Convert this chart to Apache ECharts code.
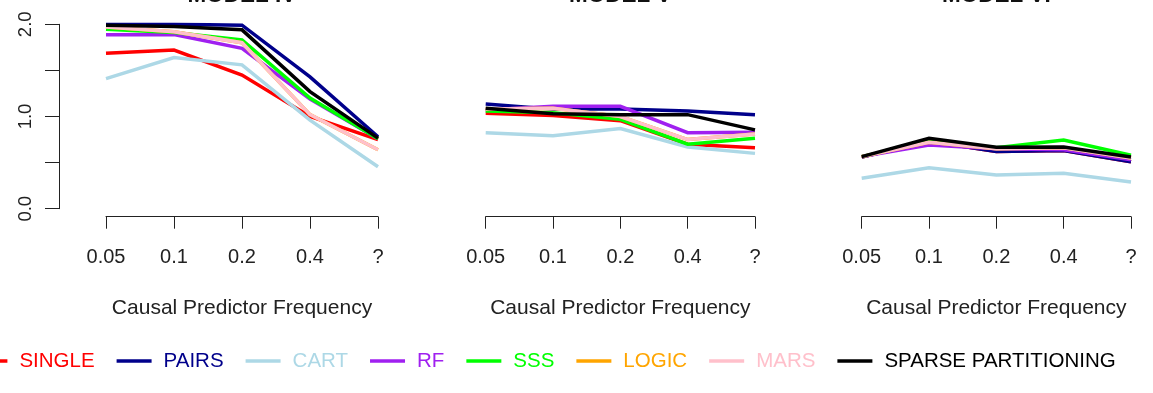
<!DOCTYPE html>
<html>
<head>
<meta charset="utf-8">
<script src="https://cdn.jsdelivr.net/npm/echarts@6/dist/echarts.min.js"></script>
<style>
html,body{margin:0;padding:0;background:#fff;}
#chart{width:1153px;height:393px;}
</style>
</head>
<body>
<div id="chart"></div>
<script>
// ---- data ----
const categories = ["0.05", "0.1", "0.2", "0.4", "?"];
const panelTitles = ["MODEL IV", "MODEL V", "MODEL VI"];
const methods = ["SINGLE", "PAIRS", "CART", "RF", "SSS", "LOGIC", "MARS", "SPARSE PARTITIONING"];
const methodColors = ["#FF0000", "#00008B", "#ADD8E6", "#A020F0", "#00FF00", "#FFA500", "#FFC0CB", "#000000"];
const yTicks = [0, 0.5, 1, 1.5, 2];

// MODEL IV
const m4_single = [1.685, 1.72, 1.45, 1.00, 0.75];
const m4_pairs  = [2.00, 2.00, 1.99, 1.43, 0.78];
const m4_cart   = [1.41, 1.64, 1.56, 0.96, 0.455];
const m4_rf     = [1.887, 1.89, 1.74, 1.19, 0.76];
const m4_sss    = [1.946, 1.91, 1.83, 1.20, 0.76];
const m4_logic  = [1.97, 1.92, 1.80, 1.02, 0.64];
const m4_mars   = [1.97, 1.92, 1.80, 1.02, 0.64];
const m4_sparse = [1.99, 1.975, 1.94, 1.27, 0.765];
// MODEL V
const m5_single = [1.035, 1.01, 0.955, 0.70, 0.66];
const m5_pairs  = [1.135, 1.08, 1.08, 1.06, 1.02];
const m5_cart   = [0.825, 0.79, 0.87, 0.67, 0.60];
const m5_rf     = [1.07, 1.11, 1.11, 0.825, 0.83];
const m5_sss    = [1.06, 1.04, 0.97, 0.70, 0.765];
const m5_logic  = [1.08, 1.09, 1.00, 0.75, 0.81];
const m5_mars   = [1.08, 1.09, 1.00, 0.75, 0.81];
const m5_sparse = [1.09, 1.03, 1.02, 1.02, 0.855];
// MODEL VI
const m6_single = [0.56, 0.73, 0.62, 0.63, 0.51];
const m6_pairs  = [0.56, 0.73, 0.62, 0.63, 0.51];
const m6_cart   = [0.33, 0.445, 0.365, 0.385, 0.29];
const m6_rf     = [0.565, 0.69, 0.65, 0.64, 0.53];
const m6_sss    = [0.565, 0.73, 0.66, 0.745, 0.58];
const m6_logic  = [0.565, 0.72, 0.65, 0.66, 0.55];
const m6_mars   = [0.565, 0.72, 0.65, 0.66, 0.55];
const m6_sparse = [0.565, 0.764, 0.666, 0.67, 0.56];

const panelData = [
  [m4_single, m4_pairs, m4_cart, m4_rf, m4_sss, m4_logic, m4_mars, m4_sparse],
  [m5_single, m5_pairs, m5_cart, m5_rf, m5_sss, m5_logic, m5_mars, m5_sparse],
  [m6_single, m6_pairs, m6_cart, m6_rf, m6_sss, m6_logic, m6_mars, m6_sparse]
];

// ---- layout ----
const FONT = "'Liberation Sans', Arial, Helvetica, sans-serif";
const AX = '#222';
const gridLefts = [106, 485.7, 861.7];
const gridWidths = [272, 269.3, 269.3];
const gridTop = 24.3, gridHeight = 184.4;

const grids = [], xAxes = [], yAxes = [], series = [], graphics = [];
for (let p = 0; p < 3; p++) {
  grids.push({left: gridLefts[p], top: gridTop, width: gridWidths[p], height: gridHeight, containLabel: false});
  xAxes.push({
    type: 'category', gridIndex: p, data: categories, boundaryGap: false,
    offset: 8,
    axisLine: {show: true, onZero: false, lineStyle: {color: AX, width: 1}},
    axisTick: {show: true, length: 12, inside: false, lineStyle: {color: AX, width: 1}},
    axisLabel: {show: true, interval: 0, margin: 31, fontSize: 20, color: AX, fontFamily: FONT},
    splitLine: {show: false},
    name: 'Causal Predictor Frequency', nameLocation: 'middle', nameGap: 81,
    nameTextStyle: {fontSize: 21, color: AX, fontFamily: FONT}
  });
  yAxes.push({
    type: 'value', gridIndex: p, min: yTicks[0], max: yTicks[yTicks.length - 1], interval: yTicks[1] - yTicks[0],
    show: p === 0,
    offset: 47,
    axisLine: {show: true, lineStyle: {color: AX, width: 1}},
    axisTick: {show: true, length: 14, lineStyle: {color: AX, width: 1}},
    axisLabel: {show: true, rotate: 90, margin: 24, fontSize: 18.5, color: AX, fontFamily: FONT,
      formatter: v => (Math.abs(v - Math.round(v)) < 1e-9 ? Number(v).toFixed(1) : '')},
    splitLine: {show: false}
  });
  for (let s = 0; s < methods.length; s++) {
    series.push({
      type: 'line', name: methods[s], xAxisIndex: p, yAxisIndex: p,
      data: panelData[p][s], showSymbol: false, symbol: 'none', silent: true,
      lineStyle: {color: methodColors[s], width: 3.5, join: 'miter'},
      itemStyle: {color: methodColors[s]},
      animation: false
    });
  }
  graphics.push({
    type: 'text', x: gridLefts[p] + gridWidths[p] / 2, y: -4,
    style: {text: panelTitles[p], fill: '#111', fontSize: 22.5, fontWeight: 'bold', fontFamily: FONT,
      align: 'center', verticalAlign: 'middle'}
  });
}

const chart = echarts.init(document.getElementById('chart'), null, {renderer: 'canvas'});
chart.setOption({
  animation: false,
  backgroundColor: '#fff',
  grid: grids, xAxis: xAxes, yAxis: yAxes, series: series,
  graphic: graphics,
  legend: {
    left: -27.6, top: 350.5, padding: 0, itemGap: 22, itemWidth: 35, itemHeight: 3.5,
    icon: 'rect', selectedMode: false,
    data: methods.map((m, i) => ({name: m, itemStyle: {color: methodColors[i]},
      textStyle: {color: methodColors[i], fontSize: 20.5, fontFamily: FONT, padding: [0, 0, 0, 7]}}))
  }
});
</script>
</body>
</html>
